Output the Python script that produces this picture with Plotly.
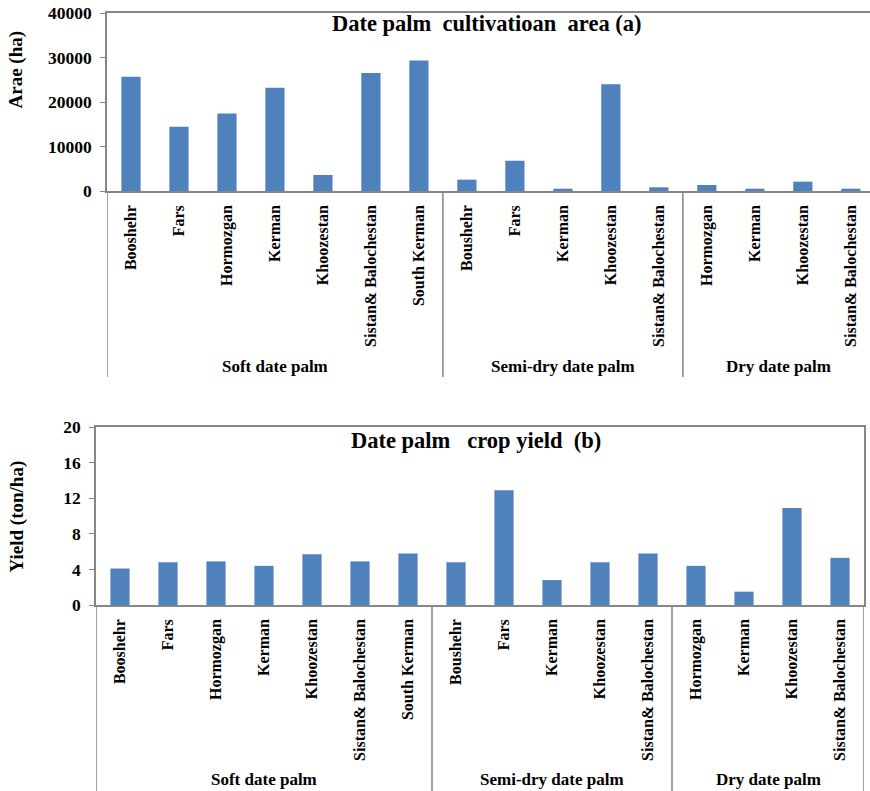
import plotly.graph_objects as go

# Region names, grouped by date palm type
soft_regions = ["Booshehr", "Fars", "Hormozgan", "Kerman", "Khoozestan",
                "Sistan& Balochestan", "South Kerman"]
semidry_regions = ["Boushehr", "Fars", "Kerman", "Khoozestan", "Sistan& Balochestan"]
dry_regions = ["Hormozgan", "Kerman", "Khoozestan", "Sistan& Balochestan"]
group_names = ["Soft date palm", "Semi-dry date palm", "Dry date palm"]

# Cultivation area (ha)
soft_area = [25700, 14450, 17400, 23200, 3600, 26500, 29300]
semidry_area = [2550, 6800, 520, 24000, 830]
dry_area = [1350, 520, 2100, 520]

# Crop yield (ton/ha)
soft_yield = [4.1, 4.8, 4.9, 4.4, 5.7, 4.9, 5.8]
semidry_yield = [4.8, 12.9, 2.8, 4.8, 5.8]
dry_yield = [4.4, 1.5, 10.9, 5.3]

area_ticks = [0, 10000, 20000, 30000, 40000]
yield_ticks = [0, 4, 8, 12, 16, 20]

labels = soft_regions + semidry_regions + dry_regions
area = soft_area + semidry_area + dry_area
yld = soft_yield + semidry_yield + dry_yield
xpos = list(range(len(labels)))
group_sizes = [len(soft_regions), len(semidry_regions), len(dry_regions)]

W, H = 870, 791
FONT = "Liberation Serif, Times New Roman, serif"
BAR = "#4F81BD"
LINE = "#868686"

fig = go.Figure()
fig.add_trace(go.Bar(x=xpos, y=area, width=0.4, marker_color=BAR,
                     marker_line_width=0, xaxis="x", yaxis="y"))
fig.add_trace(go.Bar(x=xpos, y=yld, width=0.4, marker_color=BAR,
                     marker_line_width=0, xaxis="x2", yaxis="y2"))

xtickfont = dict(family=FONT, size=16, color="black", weight="bold")
ytickfont = dict(family=FONT, size=17.5, color="black", weight="bold")

def xaxis_cfg(x0, x1, rng):
    return dict(domain=[x0 / W, x1 / W], range=rng, tickvals=xpos, ticktext=labels,
                tickangle=-90, tickfont=xtickfont, showline=True, linecolor=LINE,
                linewidth=1.5, mirror=True, ticks="", showgrid=False,
                zeroline=False, ticklabelstandoff=6, fixedrange=True,
                automargin=False)

def yaxis_cfg(y_top, y_bot, rng, ticks, anchor, mirror):
    return dict(domain=[1 - y_bot / H, 1 - y_top / H], range=rng, tickvals=ticks,
                ticktext=[str(t) for t in ticks],
                tickfont=ytickfont, showline=True, linecolor=LINE, linewidth=1.5,
                mirror=mirror, ticks="outside", ticklen=5, tickcolor=LINE,
                showgrid=False, zeroline=False, anchor=anchor,
                ticklabelstandoff=5, fixedrange=True, automargin=False)

fig.update_layout(
    width=W, height=H, margin=dict(l=0, r=0, t=0, b=0, autoexpand=False),
    paper_bgcolor="white", plot_bgcolor="white", showlegend=False,
    xaxis=dict(**xaxis_cfg(107, 870, [-0.5, 15.4]), anchor="y"),
    yaxis=yaxis_cfg(13, 191, [0, 40000], area_ticks, "x", False),
    xaxis2=dict(**xaxis_cfg(96, 864, [-0.5, 15.5]), anchor="y2"),
    yaxis2=yaxis_cfg(427, 605, [0, 20], yield_ticks, "x2", True),
)

# Group separators and group names under each axis
bounds = [-0.5]
for n in group_sizes:
    bounds.append(bounds[-1] + n)

for xa, ya, depth, lab_y in [("x", "y", -1.045, -0.987), ("x2", "y2", -1.045, -0.981)]:
    for b in bounds:
        fig.add_shape(type="line", xref=xa, yref=f"{ya} domain", x0=b, x1=b,
                      y0=0, y1=depth, line=dict(color=LINE, width=1.5))
    for i, g in enumerate(group_names):
        fig.add_annotation(xref=xa, yref=f"{ya} domain", x=(bounds[i] + bounds[i + 1]) / 2,
                           y=lab_y, text=g, showarrow=False, yanchor="middle",
                           font=dict(family=FONT, size=17, color="black", weight="bold"))

titlefont = dict(family=FONT, size=22.5, color="black", weight="bold")
fig.add_annotation(xref="paper", yref="paper", x=487 / W, y=1 - 24 / H,
                   xanchor="center", yanchor="middle",
                   text="Date palm\u00a0 cultivatioan\u00a0 area (a)", showarrow=False,
                   font=titlefont)
fig.add_annotation(xref="paper", yref="paper", x=476 / W, y=1 - 440 / H,
                   xanchor="center", yanchor="middle",
                   text="Date palm\u00a0\u00a0 crop yield\u00a0 (b)", showarrow=False,
                   font=titlefont)

axfont = dict(family=FONT, size=19, color="black", weight="bold")
fig.add_annotation(xref="paper", yref="paper", x=15.5 / W, y=1 - 70 / H,
                   xanchor="center", yanchor="middle",
                   text="Arae (ha)", textangle=-90, showarrow=False, font=axfont)
fig.add_annotation(xref="paper", yref="paper", x=16.5 / W, y=1 - 517 / H,
                   xanchor="center", yanchor="middle",
                   text="Yield (ton/ha)", textangle=-90, showarrow=False, font=axfont)

fig.write_html("out.html")
